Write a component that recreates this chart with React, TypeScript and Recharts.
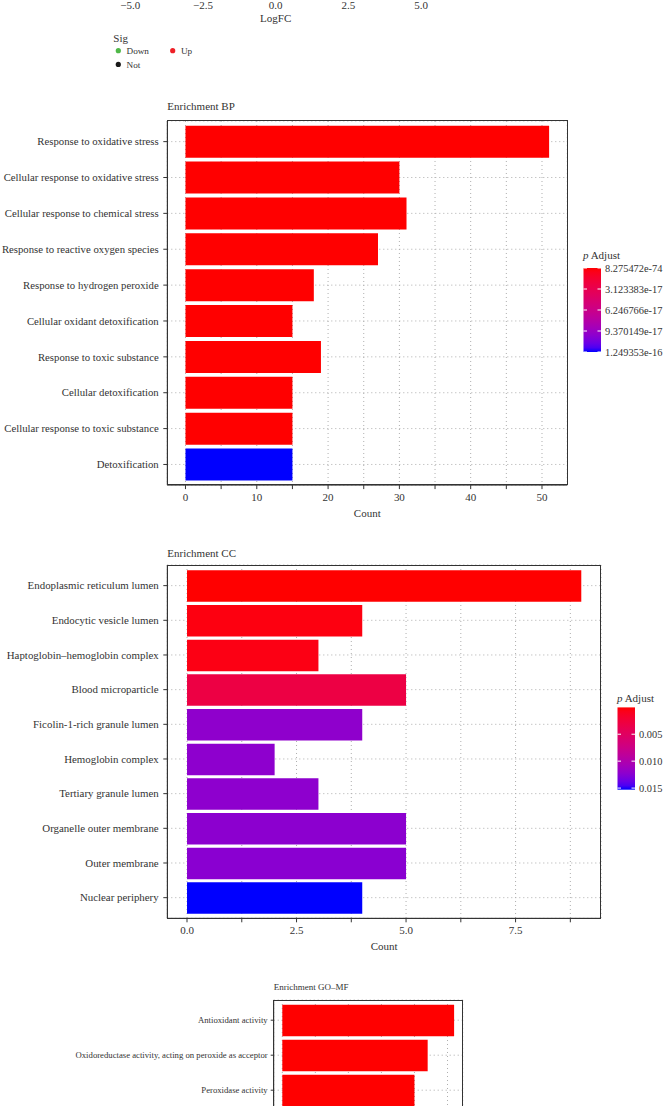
import { Bar, BarChart, CartesianGrid, Cell, Label, Legend, Scatter, ScatterChart, XAxis, YAxis } from "recharts";

const FONT = '"Liberation Serif", "Times New Roman", serif';
const INK = "#333333";

// volcano plot: only its x axis and the Sig legend are inside the crop
const volcanoTicks = [-5, -2.5, 0, 2.5, 5];
const sigLevels = ["Down", "Not", "Up"];
const downPoints: { logFC: number; negLog10P: number }[] = [];
const notPoints: { logFC: number; negLog10P: number }[] = [];
const upPoints: { logFC: number; negLog10P: number }[] = [];

// Enrichment BP
const bpTerms = [
    "Response to oxidative stress",
    "Cellular response to oxidative stress",
    "Cellular response to chemical stress",
    "Response to reactive oxygen species",
    "Response to hydrogen peroxide",
    "Cellular oxidant detoxification",
    "Response to toxic substance",
    "Cellular detoxification",
    "Cellular response to toxic substance",
    "Detoxification",
];
const bpCounts = [51, 30, 31, 27, 18, 15, 19, 15, 15, 15];
const bpPAdjust = [8.275472e-74, 3.6e-39, 1.2e-38, 5.4e-33, 2.7e-24, 6.9e-22, 1.8e-21, 4.3e-20, 4.3e-20, 1.249353e-16];
const bpTicks = [0, 5, 10, 15, 20, 25, 30, 35, 40, 45, 50];
const bpBreaks = [8.275472e-74, 3.123383e-17, 6.246766e-17, 9.370149e-17, 1.249353e-16];

// Enrichment CC
const ccTerms = [
    "Endoplasmic reticulum lumen",
    "Endocytic vesicle lumen",
    "Haptoglobin–hemoglobin complex",
    "Blood microparticle",
    "Ficolin-1-rich granule lumen",
    "Hemoglobin complex",
    "Tertiary granule lumen",
    "Organelle outer membrane",
    "Outer membrane",
    "Nuclear periphery",
];
const ccCounts = [9, 4, 3, 5, 4, 2, 3, 5, 5, 4];
const ccPAdjust = [2.1e-5, 4.2e-4, 5.5e-4, 3.1e-3, 1.21e-2, 1.22e-2, 1.22e-2, 1.23e-2, 1.24e-2, 1.53e-2];
const ccTicks = [0, 1.25, 2.5, 3.75, 5, 6.25, 7.5, 8.75];
const ccBreaks = [0.005, 0.01, 0.015];

// Enrichment GO-MF (rest of the panel is below the crop)
const mfTerms = [
    "Antioxidant activity",
    "Oxidoreductase activity, acting on peroxide as acceptor",
    "Peroxidase activity",
];
const mfCounts = [13, 11, 10];
const mfPAdjust = [4.6e-15, 8.9e-13, 2.7e-12];
const mfPRange = [4.6e-15, 2.0e-8];
const mfTicks = [0, 2.5, 5, 7.5, 10, 12.5];

// red -> blue ramp interpolated in Lab, like ggplot's continuous fill
const WP = [0.95047, 1, 1.08883];
function toLab(hex: string) {
    const c = [1, 3, 5].map(i => parseInt(hex.slice(i, i + 2), 16) / 255)
        .map(v => (v <= 0.04045 ? v / 12.92 : Math.pow((v + 0.055) / 1.055, 2.4)));
    const xyz = [
        0.4124 * c[0] + 0.3576 * c[1] + 0.1805 * c[2],
        0.2126 * c[0] + 0.7152 * c[1] + 0.0722 * c[2],
        0.0193 * c[0] + 0.1192 * c[1] + 0.9505 * c[2],
    ];
    const f = xyz.map((v, i) => {
        const t = v / WP[i];
        return t > 0.008856 ? Math.cbrt(t) : 7.787 * t + 16 / 116;
    });
    return [116 * f[1] - 16, 500 * (f[0] - f[1]), 200 * (f[1] - f[2])];
}
function fromLab([L, a, b]: number[]) {
    const fy = (L + 16) / 116;
    const f = [fy + a / 500, fy, fy - b / 200];
    const xyz = f.map((v, i) => WP[i] * (v ** 3 > 0.008856 ? v ** 3 : (v - 16 / 116) / 7.787));
    const lin = [
        3.2406 * xyz[0] - 1.5372 * xyz[1] - 0.4986 * xyz[2],
        -0.9689 * xyz[0] + 1.8758 * xyz[1] + 0.0415 * xyz[2],
        0.0557 * xyz[0] - 0.204 * xyz[1] + 1.057 * xyz[2],
    ];
    return "#" + lin.map(v => {
        const c = Math.min(1, Math.max(0, v));
        const s = c <= 0.0031308 ? 12.92 * c : 1.055 * Math.pow(c, 1 / 2.4) - 0.055;
        return Math.round(s * 255).toString(16).padStart(2, "0");
    }).join("");
}
const LOW = toLab("#ff0000");
const HIGH = toLab("#0000ff");
function rampColor(t: number) {
    const k = Math.min(1, Math.max(0, t));
    return fromLab(LOW.map((v, i) => v + (HIGH[i] - v) * k));
}

const sigColors: Record<string, string> = { Down: "#4fb848", Not: "#1a1a1a", Up: "#ee2027" };
const sigData: Record<string, { logFC: number; negLog10P: number }[]> = { Down: downPoints, Not: notPoints, Up: upPoints };

function signed(v: number) {
    return v.toFixed(1).replace("-", "\u2212");
}

function SigLegend() {
    return (
        <svg width={130} height={46} style={{ display: "block", overflow: "visible" }}>
            <text x={3.3} y={14} fontSize={11} fill={INK} fontFamily={FONT}>Sig</text>
            {sigLevels.map((s, i) => {
                const cx = 8.3 + Math.floor(i / 2) * 54.4;
                const cy = 22.7 + (i % 2) * 13.7;
                return (
                    <g key={s}>
                        <circle cx={cx} cy={cy} r={2.6} fill={sigColors[s]} />
                        <text x={cx + 8.2} y={cy + 3.6} fontSize={9.2} fill={INK} fontFamily={FONT}>{s}</text>
                    </g>
                );
            })}
        </svg>
    );
}

function VolcanoAxis() {
    const top = -100;
    const height = 180;
    return (
        <div style={{ position: "absolute", left: 0, top }}>
            <ScatterChart width={664} height={height} margin={{ top: 0, right: 664 - 450.3, bottom: height - (22 - top), left: 101.1 }}>
                <XAxis type="number" dataKey="logFC" domain={[-6, 6]} allowDataOverflow ticks={volcanoTicks} interval={0} tickFormatter={signed}
                    height={28.5} tickSize={4} tickMargin={4} axisLine={{ stroke: INK }} tickLine={{ stroke: INK }}
                    tick={{ fill: INK, fontSize: 11, fontFamily: FONT }}>
                    <Label value="LogFC" position="insideBottom" offset={0} fill={INK} fontSize={11} fontFamily={FONT} />
                </XAxis>
                <YAxis type="number" dataKey="negLog10P" domain={[0, 10]} allowDataOverflow hide />
                {sigLevels.map(s => (
                    <Scatter key={s} name={s} data={sigData[s]} fill={sigColors[s]} isAnimationActive={false} />
                ))}
                <Legend layout="vertical" align="center" verticalAlign="middle"
                    wrapperStyle={{ left: 110, top: 28 - top, width: 130 }} content={() => <SigLegend />} />
            </ScatterChart>
        </div>
    );
}

interface IColorBarProps {
    id: string;
    range: number[];
    breaks: number[];
    format: (v: number) => string;
    titleGap: number;
    barHeight: number;
}

function ColorBar({ id, range, breaks, format, titleGap, barHeight }: IColorBarProps) {
    const [lo, hi] = range;
    const barW = 17.5;
    const top = 12 + titleGap;
    const stops = Array.from({ length: 21 }, (_, i) => i / 20);
    return (
        <svg width={100} height={top + barHeight + 10} style={{ display: "block", overflow: "visible" }}>
            <defs>
                <linearGradient id={id} x1="0" y1="0" x2="0" y2="1">
                    {stops.map(s => <stop key={s} offset={s} stopColor={rampColor(s)} />)}
                </linearGradient>
            </defs>
            <text x={0} y={12} fontSize={11} fill={INK} fontFamily={FONT}>
                <tspan fontStyle="italic">p</tspan> Adjust
            </text>
            <rect x={0.5} y={top} width={barW} height={barHeight} fill={`url(#${id})`} />
            {breaks.map(b => {
                const y = top + ((b - lo) / (hi - lo)) * barHeight;
                return (
                    <g key={b}>
                        <line x1={0.5} x2={4} y1={y} y2={y} stroke="#ffffff" />
                        <line x1={barW - 3} x2={barW + 0.5} y1={y} y2={y} stroke="#ffffff" />
                        <text x={barW + 4.5} y={y} dy="0.35em" fontSize={10.4} fill={INK} fontFamily={FONT}>{format(b)}</text>
                    </g>
                );
            })}
        </svg>
    );
}

// y tick as plain text, so long terms stay on one line
function TermTick(props: any) {
    const { x, y, payload, size } = props;
    return (
        <text x={x} y={y} dy="0.35em" textAnchor="end" fill={INK} fontSize={size} fontFamily={FONT}>{payload.value}</text>
    );
}

interface IPanelProps {
    title: string;
    titleBaseline: number;
    titleSize: number;
    terms: string[];
    counts: number[];
    pAdjust: number[];
    pRange: number[];
    domain: [number, number];
    ticks: number[];
    tickLabel: (v: number) => string;
    panelTop: number;
    panelLeft: number;
    panelRight: number;
    band: number;
    bandPad: number;
    barSize: number;
    fontSize: number;
    tickLen: number;
    tickGap: number;
    legend?: { id: string; breaks: number[]; format: (v: number) => string; x: number; titleBaseline: number; titleGap: number; barHeight: number };
}

function EnrichmentPanel(p: IPanelProps) {
    const rows = p.terms.map((term, i) => ({ term, count: p.counts[i], pAdjust: p.pAdjust[i] }));
    const [pMin, pMax] = p.pRange;
    const chartTop = p.panelTop - 20;
    const panelHeight = p.band * p.terms.length + 2 * p.bandPad;
    const height = 20 + panelHeight + 32 + 6;
    return (
        <div style={{ position: "absolute", left: 0, top: chartTop }}>
            <div style={{
                position: "absolute", left: p.panelLeft, top: p.titleBaseline - 0.8375 * p.titleSize - chartTop,
                fontSize: p.titleSize, lineHeight: `${p.titleSize}px`, fontFamily: FONT, color: INK, whiteSpace: "nowrap",
            }}>{p.title}</div>
            <BarChart layout="vertical" width={664} height={height} data={rows}
                margin={{ top: 20, right: 664 - p.panelRight, bottom: 6, left: 0 }}>
                <CartesianGrid stroke="#adadad" strokeDasharray="1 3" />
                <XAxis type="number" dataKey="count" domain={p.domain} ticks={p.ticks} interval={0} tickFormatter={p.tickLabel}
                    allowDataOverflow height={32} tickSize={4} tickMargin={4} axisLine={{ stroke: INK }} tickLine={{ stroke: INK }}
                    tick={{ fill: INK, fontSize: 11, fontFamily: FONT }}>
                    <Label value="Count" position="insideBottom" offset={0} fill={INK} fontSize={11} fontFamily={FONT} />
                </XAxis>
                <YAxis type="category" dataKey="term" width={p.panelLeft} interval={0}
                    padding={{ top: p.bandPad, bottom: p.bandPad }} tickSize={p.tickLen} tickMargin={p.tickGap}
                    axisLine={{ stroke: INK }} tickLine={{ stroke: INK }}
                    tick={(tp: any) => <TermTick {...tp} size={p.fontSize} />} />
                <Bar dataKey="count" barSize={p.barSize} isAnimationActive={false}>
                    {rows.map((r, i) => (
                        <Cell key={`cell-${i}`} fill={rampColor((r.pAdjust - pMin) / (pMax - pMin))} />
                    ))}
                </Bar>
                {p.legend && (
                    <Legend layout="vertical" align="center" verticalAlign="middle"
                        wrapperStyle={{ left: p.legend.x, top: p.legend.titleBaseline - 12 - chartTop, width: 100 }}
                        content={() => (
                            <ColorBar id={p.legend!.id} range={p.pRange} breaks={p.legend!.breaks} format={p.legend!.format}
                                titleGap={p.legend!.titleGap} barHeight={p.legend!.barHeight} />
                        )} />
                )}
            </BarChart>
            {/* panel border */}
            <div style={{
                position: "absolute", left: p.panelLeft - 0.5, top: 19.5, width: p.panelRight - p.panelLeft - 1,
                height: panelHeight - 1, border: `1px solid ${INK}`, pointerEvents: "none",
            }} />
        </div>
    );
}

export default function App() {
    const bpRange = [Math.min(...bpPAdjust), Math.max(...bpPAdjust)];
    const ccRange = [Math.min(...ccPAdjust), Math.max(...ccPAdjust)];
    return (
        <div style={{ position: "absolute", left: 0, top: 0, width: 664, height: 1106, overflow: "hidden", background: "#ffffff" }}>
            <VolcanoAxis />
            <EnrichmentPanel
                title="Enrichment BP" titleBaseline={110.7} titleSize={11}
                terms={bpTerms} counts={bpCounts} pAdjust={bpPAdjust} pRange={bpRange}
                domain={[-2.55, 53.55]} ticks={bpTicks} tickLabel={v => (v % 10 === 0 ? String(v) : "")}
                panelTop={120.7} panelLeft={167.3} panelRight={567.3} band={35.87} bandPad={2.7} barSize={32}
                fontSize={10.75} tickLen={4} tickGap={4.6}
                legend={{ id: "bpbar", breaks: bpBreaks, format: v => v.toExponential(6), x: 583, titleBaseline: 259.3, titleGap: 9, barHeight: 84 }}
            />
            <EnrichmentPanel
                title="Enrichment CC" titleBaseline={557.7} titleSize={11}
                terms={ccTerms} counts={ccCounts} pAdjust={ccPAdjust} pRange={ccRange}
                domain={[-0.45, 9.45]} ticks={ccTicks} tickLabel={v => (v % 2.5 === 0 ? v.toFixed(1) : "")}
                panelTop={565} panelLeft={167.3} panelRight={601} band={34.67} bandPad={3.3} barSize={31.5}
                fontSize={10.9} tickLen={4} tickGap={4.6}
                legend={{ id: "ccbar", breaks: ccBreaks, format: v => v.toFixed(3), x: 616.5, titleBaseline: 702.3, titleGap: 5.4, barHeight: 82.3 }}
            />
            <EnrichmentPanel
                title="Enrichment GO–MF" titleBaseline={990.7} titleSize={9}
                terms={mfTerms} counts={mfCounts} pAdjust={mfPAdjust} pRange={mfPRange}
                domain={[-0.65, 13.65]} ticks={mfTicks} tickLabel={v => (v % 5 === 0 ? String(v) : "")}
                panelTop={1000.3} panelLeft={273.7} panelRight={462.7} band={35} bandPad={2.7} barSize={31.5}
                fontSize={8.7} tickLen={3} tickGap={3}
            />
        </div>
    );
}
